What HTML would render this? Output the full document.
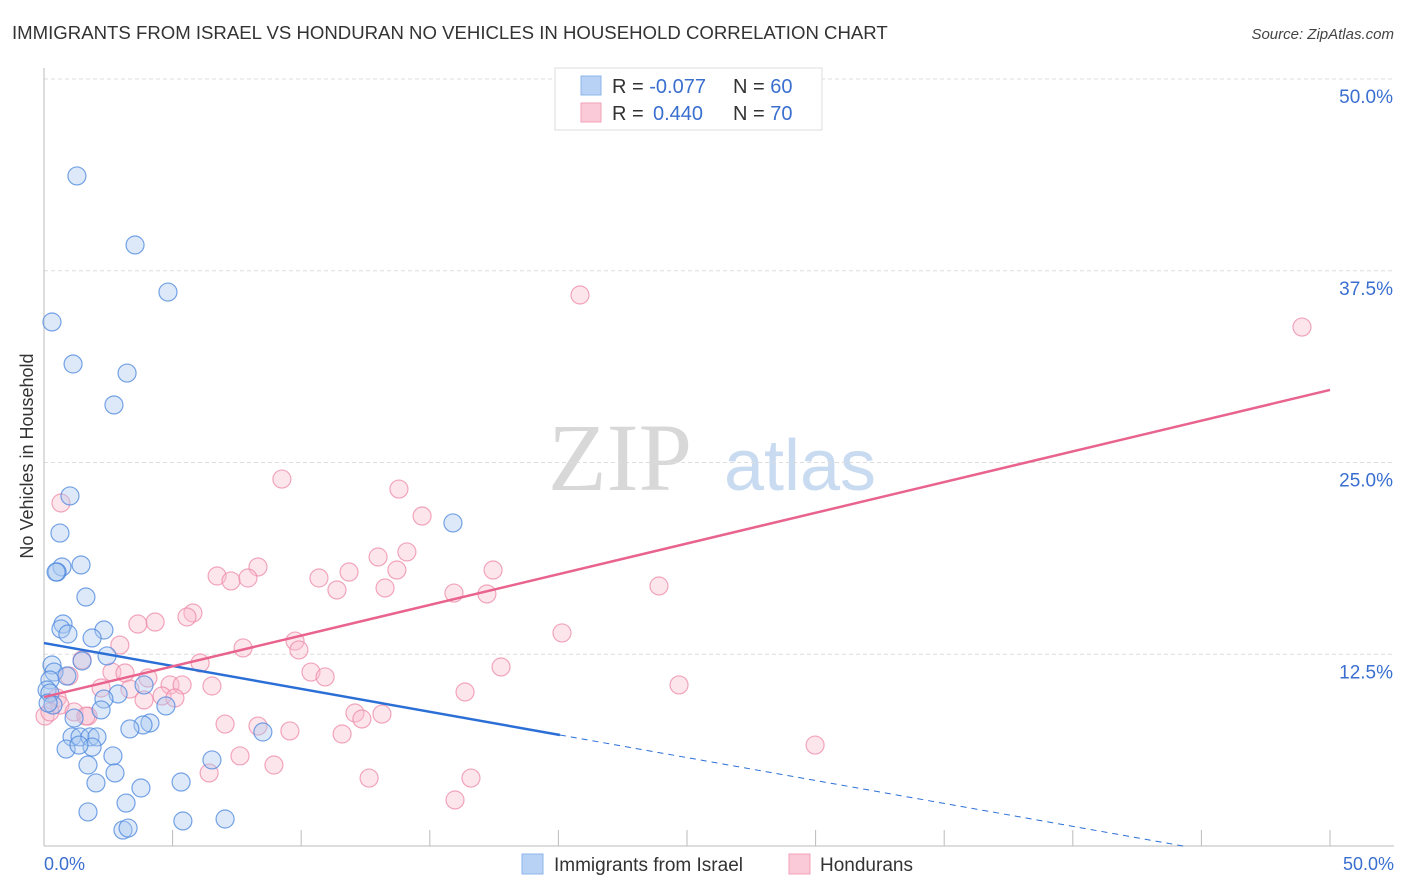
<!DOCTYPE html>
<html><head><meta charset="utf-8"><style>
body{margin:0;background:#fff;font-family:"Liberation Sans",sans-serif;}
</style></head><body>
<svg id="chart" width="1406" height="892" xmlns="http://www.w3.org/2000/svg" style="display:block">
<text x="12" y="39" font-size="18.6" fill="#333">IMMIGRANTS FROM ISRAEL VS HONDURAN NO VEHICLES IN HOUSEHOLD CORRELATION CHART</text>
<text x="1394" y="39" font-size="15" fill="#444" text-anchor="end" font-style="italic">Source: ZipAtlas.com</text>
<text transform="translate(33,456) rotate(-90)" font-size="18" fill="#333" text-anchor="middle">No Vehicles in Household</text>
<g>
<text x="620" y="490" font-size="96" font-family="Liberation Serif,serif" fill="#d8d8d8" text-anchor="middle">ZIP</text>
<text x="800" y="490" font-size="72" fill="#c9dbf0" text-anchor="middle">atlas</text>
</g>
<g id="grid"></g><g id="axes"></g><g id="pts"></g><g id="lines"></g>
<g>
<rect x="555" y="68" width="267" height="62" fill="#fff" stroke="#ddd"/>
<rect x="581" y="76" width="20" height="19" fill="#b7d2f5" stroke="#8fb5ea"/>
<rect x="581" y="103" width="20" height="19" fill="#fbcad8" stroke="#f0a3b9"/>
<text x="612" y="93" font-size="20" fill="#333">R = <tspan fill="#3a6fd0">-0.077</tspan><tspan x="733">N = </tspan><tspan fill="#3a6fd0">60</tspan></text>
<text x="612" y="120" font-size="20" fill="#333">R = <tspan x="653" fill="#3a6fd0">0.440</tspan><tspan x="733">N = </tspan><tspan fill="#3a6fd0">70</tspan></text>
</g>
<g>
<rect x="522" y="854" width="21" height="20" fill="#b7d2f5" stroke="#8fb5ea"/>
<text x="554" y="871" font-size="19" fill="#333">Immigrants from Israel</text>
<rect x="789" y="854" width="21" height="20" fill="#fbcad8" stroke="#f0a3b9"/>
<text x="820" y="871" font-size="19" fill="#333">Hondurans</text>
</g>
</svg>
<script>
const yTicks=[12.5,25,37.5,50];
const yTickLabels=["12.5%","25.0%","37.5%","50.0%"];
const xTickVals=[0,5,10,15,20,25,30,35,40,45,50];
const xEndLabels=["0.0%","50.0%"];
const bluePx=[[77,176],[135,245],[168,292],[52,322],[73,364],[127,373],[114,405],[70,496],[453,523],[60,533],[62,567],[57,572],[56,572],[81,565],[86,597],[63,624],[61,629],[68,634],[104,630],[92,638],[52,665],[82,661],[107,656],[54,672],[67,676],[50,680],[47,690],[50,693],[118,694],[144,685],[104,699],[53,705],[166,706],[101,710],[263,732],[74,718],[150,723],[143,725],[130,729],[72,737],[80,737],[90,737],[97,737],[92,747],[66,749],[79,745],[113,756],[212,760],[88,765],[115,773],[96,783],[181,782],[141,788],[126,803],[88,812],[183,821],[225,819],[123,830],[128,828],[48,703]];
const pinkPx=[[580,295],[1302,327],[282,479],[399,489],[422,516],[61,503],[378,557],[407,552],[258,567],[217,576],[231,581],[248,578],[319,578],[349,572],[397,570],[493,570],[337,590],[385,588],[454,593],[487,594],[659,586],[193,613],[187,617],[155,622],[138,624],[120,645],[562,633],[295,641],[243,648],[299,650],[200,663],[82,660],[69,676],[101,688],[112,672],[125,673],[148,678],[170,685],[182,685],[212,686],[311,672],[325,677],[501,667],[679,685],[465,692],[162,696],[130,689],[175,698],[57,698],[60,705],[74,712],[88,716],[355,713],[362,719],[382,714],[225,724],[258,726],[290,731],[342,734],[144,700],[815,745],[240,756],[274,765],[209,773],[369,778],[471,778],[455,800],[45,716],[50,712],[86,716]];
const blueX=bluePx.map(p=>+((p[0]-44)/25.72).toFixed(2));
const blueY=bluePx.map(p=>+((846-p[1])/15.34).toFixed(2));
const pinkX=pinkPx.map(p=>+((p[0]-44)/25.72).toFixed(2));
const pinkY=pinkPx.map(p=>+((846-p[1])/15.34).toFixed(2));
const blueTrend=[13.23,-0.2987];
const blueSolidEnd=20.06;
const pinkTrend=[9.71,0.4004];
const NS="http://www.w3.org/2000/svg";
const X=v=>44+v*25.72, Y=v=>846-v*15.34;
function mk(tag,attrs,parent){const e=document.createElementNS(NS,tag);for(const k in attrs)e.setAttribute(k,attrs[k]);document.getElementById(parent).appendChild(e);return e;}
yTicks.forEach((t,i)=>{
 const l=mk('line',{x1:44,x2:1394,y1:Y(t),y2:Y(t),stroke:'#ddd','stroke-dasharray':'4,3'},'grid');
 
 
 const tx=mk('text',{x:1393,y:Y(t)+24,'font-size':19,fill:'#3a6fd0','text-anchor':'end'},'axes');
 tx.textContent=yTickLabels[i];
 
 
});
const ax=mk('line',{x1:44,x2:44,y1:68,y2:846,stroke:'#bbb'},'axes');


const bx=mk('line',{x1:44,x2:1394,y1:846,y2:846,stroke:'#bbb'},'axes');


xTickVals.forEach(v=>{const t=mk('line',{x1:X(v),x2:X(v),y1:830,y2:846,stroke:'#bbb'},'axes');
 
 });
[[0,'start',44],[50,'end',1394]].forEach((d,i)=>{const t=mk('text',{x:d[2],y:870,'font-size':18,fill:'#3a6fd0','text-anchor':d[1]},'axes');t.textContent=xEndLabels[i];
 
 });
function pts(xs,ys,fill,stroke,name){xs.forEach((x,i)=>{const c=mk('circle',{cx:X(x),cy:Y(ys[i]),r:9,fill:fill,'fill-opacity':0.4,stroke:stroke,'stroke-opacity':0.75,'stroke-width':1.2},'pts');
 
 });}
pts(pinkX,pinkY,'#f9bdd0','#ec8aa8','hondurans-point');
pts(blueX,blueY,'#a9c8f0','#4a86dd','israel-point');
const bl=mk('line',{x1:X(0),y1:Y(blueTrend[0]),x2:X(blueSolidEnd),y2:Y(blueTrend[0]+blueTrend[1]*blueSolidEnd),stroke:'#2b6fd6','stroke-width':2.5},'lines');


const xEnd=-blueTrend[0]/blueTrend[1];
const bd=mk('line',{x1:X(blueSolidEnd),y1:Y(blueTrend[0]+blueTrend[1]*blueSolidEnd),x2:X(xEnd),y2:Y(0),stroke:'#2b6fd6','stroke-width':1,'stroke-dasharray':'6,5'},'lines');


const pl=mk('line',{x1:X(0),y1:Y(pinkTrend[0]),x2:X(50),y2:Y(pinkTrend[0]+pinkTrend[1]*50),stroke:'#e8638d','stroke-width':2.5},'lines');


</script>
</body></html>
